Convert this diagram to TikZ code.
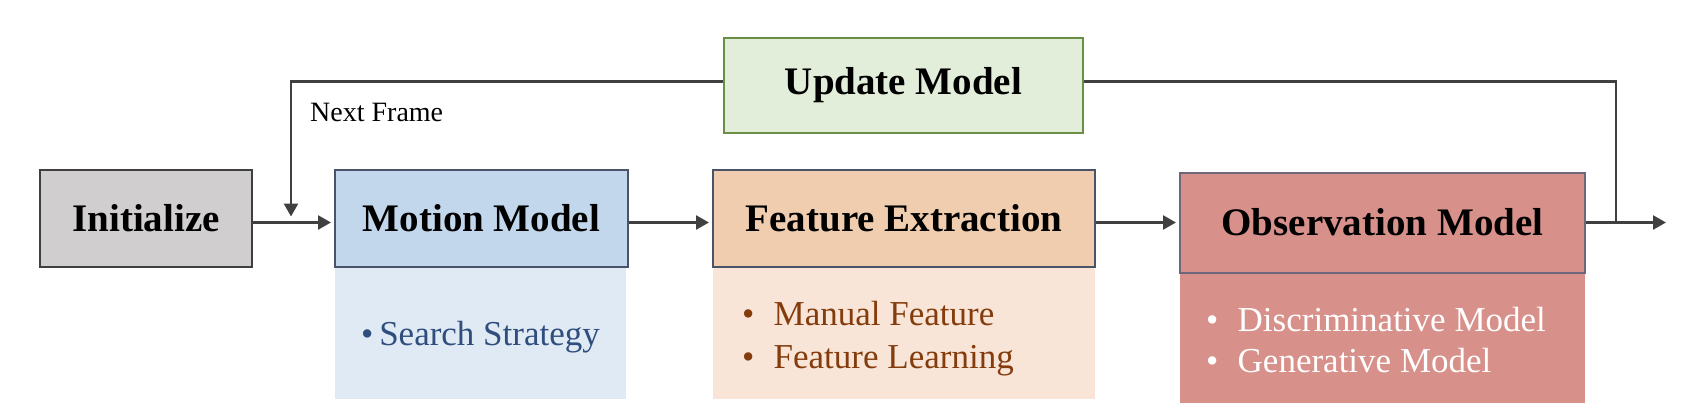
\documentclass[tikz,border=0pt]{standalone}
\usepackage{fontspec}
\setmainfont{Liberation Serif}
\usetikzlibrary{arrows.meta}
\definecolor{linegray}{HTML}{404040}
\definecolor{slate}{HTML}{4A5468}
\definecolor{initfill}{HTML}{D0CECE}
\definecolor{initborder}{HTML}{3F3F3F}
\definecolor{motionfill}{HTML}{C3D7EC}
\definecolor{motionsub}{HTML}{E0EAF4}
\definecolor{motiontext}{HTML}{2F4E7E}
\definecolor{featfill}{HTML}{F1CDB0}
\definecolor{featsub}{HTML}{F8E5D8}
\definecolor{feattext}{HTML}{843C0C}
\definecolor{obsfill}{HTML}{D8908A}
\definecolor{obsborder}{HTML}{6E6679}
\definecolor{updfill}{HTML}{E3EEDA}
\definecolor{updborder}{HTML}{6B8E45}
\begin{document}
\begin{tikzpicture}[x=1pt,y=-1pt,
  box/.style={draw=slate, line width=2pt, inner sep=0pt,
    font=\fontsize{39}{44}\selectfont\bfseries},
  subbox/.style={inner sep=0pt, anchor=north west},
  subtext/.style={anchor=base west, inner sep=0pt, font=\fontsize{35}{40}\selectfont},
  conn/.style={draw=linegray, line width=2.6pt},
  arr/.style={conn, -{Triangle[length=13pt,width=14pt]}, shorten >=3pt},
]
\useasboundingbox (0,0) rectangle (1684,416);

% sub boxes
\node[subbox, fill=motionsub, minimum width=291pt, minimum height=133pt] (msub) at (335,266) {};
\node[subbox, fill=featsub, minimum width=382pt, minimum height=133pt] (fsub) at (713,266) {};
\node[subbox, fill=obsfill, minimum width=405pt, minimum height=130pt] (osub) at (1180,273) {};

% main boxes
\node[box, draw=initborder, fill=initfill, minimum width=212pt, minimum height=97pt] (init) at (146,218) {Initialize};
\node[box, fill=motionfill, minimum width=293pt, minimum height=97pt] (motion) at (481.5,218) {Motion Model};
\node[box, fill=featfill, minimum width=382pt, minimum height=97pt] (feat) at (904,218) {Feature Extraction};
\node[box, draw=obsborder, fill=obsfill, minimum width=405pt, minimum height=100pt] (obs) at (1382.5,222.5) {Observation Model};
\node[box, draw=updborder, fill=updfill, minimum width=359pt, minimum height=95pt] (upd) at (903.5,85.5) {Update Model};

% sub texts
\node[subtext, text=motiontext] (m1) at (361,345) {\textbullet\,Search Strategy};
\node[subtext, text=feattext] (f1) at (742,325) {\textbullet\hspace{0.55em}Manual Feature};
\node[subtext, text=feattext] (f2) at (742,368) {\textbullet\hspace{0.55em}Feature Learning};
\node[subtext, text=white] (o1) at (1206,331) {\textbullet\hspace{0.55em}Discriminative Model};
\node[subtext, text=white] (o2) at (1206,372) {\textbullet\hspace{0.55em}Generative Model};

\node[anchor=west, inner sep=0pt, font=\fontsize{28}{31}\selectfont] (nf) at (310,112) {Next Frame};

% coordinates
\coordinate (tl) at (291,81.5);
\coordinate (tr) at (1616,81.5);
\coordinate (out) at (1666,0);

% connectors
\draw[arr] (init.east |- obs.west) -- (motion.west |- obs.west);
\draw[arr] (motion.east |- obs.west) -- (feat.west |- obs.west);
\draw[arr] (feat.east |- obs.west) -- (obs.west);
\draw[arr, shorten >=0pt] (obs.east) -- (out |- obs.east);
\draw[arr, shorten >=0pt] (upd.west |- tl) -- (tl) -- ([yshift=6pt]tl |- obs.west);
\draw[conn] (upd.east |- tr) -- (tr) -- (tr |- obs.east);
\end{tikzpicture}
\end{document}
